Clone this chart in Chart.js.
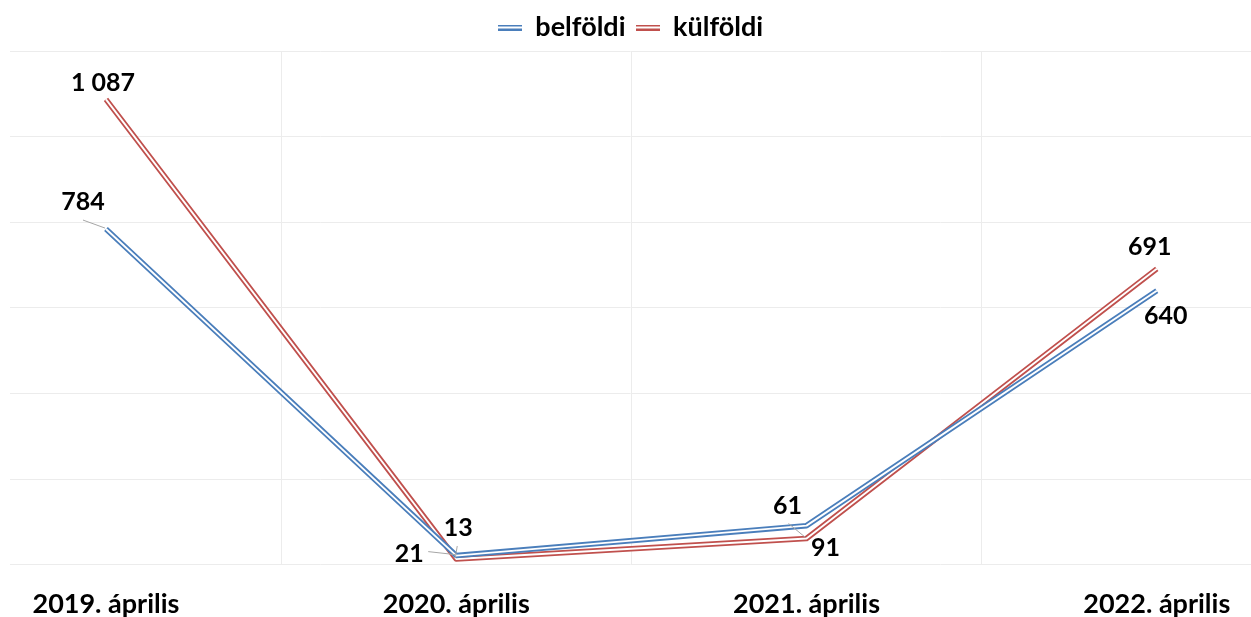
<!DOCTYPE html>
<html>
<head>
<meta charset="utf-8">
<script src="https://cdn.jsdelivr.net/npm/chart.js@4/dist/chart.umd.min.js"></script>
<style>
  body { margin: 0; background: #fff; }
  #wrap { width: 1251px; height: 617px; position: relative; }
</style>
</head>
<body>
<div id="wrap"><canvas id="chart"></canvas></div>
<script>
const categories = ["2019. április", "2020. április", "2021. április", "2022. április"];
const belfoldi = [784, 21, 91, 640];
const kulfoldi = [1087, 13, 61, 691];
const yTicks = [0, 200, 400, 600, 800, 1000, 1200];

const blue = "#4a7ebb";
const red = "#c0504d";
const fontFamily = "Lato, 'Open Sans', sans-serif";

// label offsets from the point (the original labels were dragged around by hand)
// lead = where the leader line starts, relative to the label centre
const belfoldiLabels = [
	{ dx: -23, dy: -27, lead: [0, 18] },
	{ dx: -47, dy: -2, lead: [19, -2] },
	{ dx: 19, dy: 22 },
	{ dx: 9, dy: 25 },
];
const kulfoldiLabels = [
	{ dx: -3, dy: -16 },
	{ dx: 2, dy: -31, lead: [-1, 18] },
	{ dx: -19, dy: -33, lead: [1, 18] },
	{ dx: -7, dy: -22 },
];

const fmt = (v) => String(v).replace(/\B(?=(\d{3})+(?!\d))/g, " ");

// little double-line swatch for the legend
function swatch(color) {
	const c = document.createElement("canvas");
	c.width = 24;
	c.height = 6;
	const g = c.getContext("2d");
	g.fillStyle = color;
	g.fillRect(0, 0, 24, 2);
	g.fillRect(0, 4, 24, 2);
	return c;
}

const doubleLine = {
	id: "doubleLine",
	afterDatasetDraw(chart, args) {
		const pts = args.meta.data;
		const ctx = chart.ctx;
		ctx.save();
		ctx.strokeStyle = "#fff";
		ctx.lineWidth = 1.9;
		ctx.lineJoin = "round";
		ctx.beginPath();
		pts.forEach((p, i) => (i ? ctx.lineTo(p.x, p.y) : ctx.moveTo(p.x, p.y)));
		ctx.stroke();
		ctx.restore();
	},
};

const pointLabels = {
	id: "pointLabels",
	afterDatasetsDraw(chart) {
		const ctx = chart.ctx;
		ctx.save();
		ctx.font = "bold 25px " + fontFamily;
		ctx.textAlign = "center";
		ctx.textBaseline = "middle";
		chart.data.datasets.forEach((ds, di) => {
			const meta = chart.getDatasetMeta(di);
			meta.data.forEach((p, i) => {
				const o = ds.labelPos[i];
				const lx = p.x + o.dx;
				const ly = p.y + o.dy;
				if (o.lead) {
					ctx.strokeStyle = "#a6a6a6";
					ctx.lineWidth = 1;
					ctx.beginPath();
					ctx.moveTo(lx + o.lead[0], ly + o.lead[1]);
					ctx.lineTo(p.x - 1, p.y - 1);
					ctx.stroke();
				}
				ctx.fillStyle = "#000";
				ctx.fillText(fmt(ds.data[i].y), lx, ly);
			});
		});
		ctx.restore();
	},
};

new Chart(document.getElementById("chart"), {
	type: "line",
	data: {
		datasets: [
			{
				label: "belföldi",
				data: belfoldi.map((v, i) => ({ x: i, y: v })),
				borderColor: blue,
				backgroundColor: "#fff",
				borderWidth: 5.5,
				pointRadius: 0,
				tension: 0,
				borderJoinStyle: "round",
				labelPos: belfoldiLabels,
			},
			{
				label: "külföldi",
				data: kulfoldi.map((v, i) => ({ x: i, y: v })),
				borderColor: red,
				backgroundColor: "#fff",
				borderWidth: 5.5,
				pointRadius: 0,
				tension: 0,
				borderJoinStyle: "round",
				labelPos: kulfoldiLabels,
			},
		],
	},
	options: {
		responsive: true,
		maintainAspectRatio: false,
		animation: false,
		clip: false,
		layout: {
			padding: { left: 10, right: 0, top: 4, bottom: -26 },
		},
		plugins: {
			tooltip: { enabled: false },
			legend: {
				position: "top",
				labels: {
					color: "#000",
					font: { family: fontFamily, size: 27, weight: "bold" },
					usePointStyle: true,
					pointStyleWidth: 24,
					boxHeight: 6,
					padding: 10,
					generateLabels(chart) {
						return chart.data.datasets.map((ds, i) => ({
							text: ds.label,
							pointStyle: swatch(ds.borderColor),
							fillStyle: ds.borderColor,
							strokeStyle: ds.borderColor,
							lineWidth: 0,
							fontColor: "#000",
							hidden: false,
							datasetIndex: i,
						}));
					},
				},
			},
		},
		scales: {
			x: {
				type: "linear",
				min: -0.274,
				max: 3.269,
				afterBuildTicks(scale) {
					scale.ticks = [0, 0.5, 1, 1.5, 2, 2.5, 3].map((v) => ({ value: v }));
				},
				afterFit(scale) {
					scale.paddingLeft = 0;
					scale.paddingRight = 0;
				},
				grid: {
					color: (ctx) => (ctx.tick && !Number.isInteger(ctx.tick.value) ? "#ececec" : "rgba(0,0,0,0)"),
					drawTicks: false,
				},
				border: { display: false },
				ticks: {
					autoSkip: false,
					maxRotation: 0,
					padding: 23,
					color: "#000",
					font: { family: fontFamily, size: 27, weight: "bold" },
					callback: (v) => (Number.isInteger(v) ? categories[v] : ""),
				},
			},
			y: {
				min: yTicks[0],
				max: yTicks[yTicks.length - 1],
				afterBuildTicks(scale) {
					scale.ticks = yTicks.map((v) => ({ value: v }));
				},
				grid: { color: "#ececec", drawTicks: false },
				border: { display: false },
				ticks: { display: false },
			},
		},
	},
	plugins: [doubleLine, pointLabels],
});
</script>
</body>
</html>
